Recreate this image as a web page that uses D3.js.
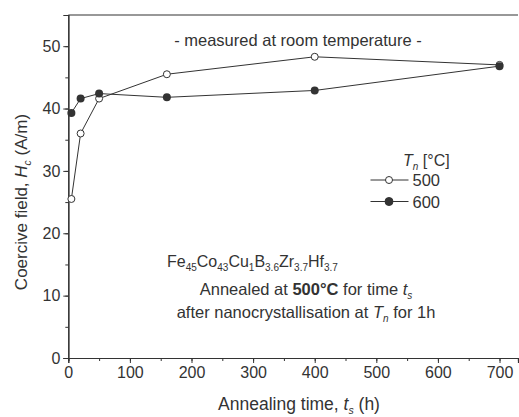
<!DOCTYPE html>
<html><head><meta charset="utf-8">
<script src="https://cdn.jsdelivr.net/npm/d3@7"></script>
<style>
body{margin:0;background:#fff;}
svg text{font-family:"Liberation Sans",Arial,sans-serif;fill:#333;}
</style></head>
<body><svg id="c" width="519" height="417"></svg>
<script>
const series500 = [[5,25.5],[20,36],[50,41.6],[160,45.5],[400,48.3],[700,47.0]];
const series600 = [[5,39.3],[20,41.6],[50,42.4],[160,41.8],[400,42.9],[700,46.8]];
const xTicks = [0,100,200,300,400,500,600,700];
const yTicks = [0,10,20,30,40,50];

const svg = d3.select("#c");
const m = {l:68.3, r:1, t:15, b:59};
const W = 519, H = 417;
const x = d3.scaleLinear().domain([0,730]).range([m.l, W-m.r]);
const y = d3.scaleLinear().domain([0,55]).range([H-m.b, m.t]);
const col = "#333";

// top border
svg.append("line").attr("x1",x(0)).attr("x2",x(730)).attr("y1",y(55)).attr("y2",y(55))
  .attr("stroke",col).attr("stroke-width",1.2);

// x axis
const gx = svg.append("g").attr("transform",`translate(0,${y(0)})`);
gx.call(d3.axisBottom(x).tickValues(d3.range(0,731,50)).tickSize(3).tickFormat(""));
const gx2 = svg.append("g").attr("transform",`translate(0,${y(0)})`);
gx2.call(d3.axisBottom(x).tickValues(xTicks).tickSize(5).tickPadding(4));
gx2.selectAll("text").attr("font-size",16).style("fill","#333");
[gx,gx2].forEach(g=>{g.select(".domain").attr("stroke",col).attr("stroke-width",1.2); g.selectAll("line").attr("stroke",col);});

// y axis
const gy = svg.append("g").attr("transform",`translate(${x(0)},0)`);
gy.call(d3.axisLeft(y).tickValues(d3.range(0,56,5)).tickSize(3).tickFormat(""));
const gy2 = svg.append("g").attr("transform",`translate(${x(0)},0)`);
gy2.call(d3.axisLeft(y).tickValues(yTicks).tickSize(5).tickPadding(3));
gy2.selectAll("text").attr("font-size",16).style("fill","#333");
[gy,gy2].forEach(g=>{g.select(".domain").attr("stroke",col).attr("stroke-width",1.2); g.selectAll("line").attr("stroke",col);});

// lines
const line = d3.line().x(d=>x(d[0])).y(d=>y(d[1]));
svg.append("path").datum(series500).attr("d",line).attr("fill","none").attr("stroke",col).attr("stroke-width",1);
svg.append("path").datum(series600).attr("d",line).attr("fill","none").attr("stroke",col).attr("stroke-width",1);
svg.selectAll(".p500").data(series500).join("circle").attr("cx",d=>x(d[0])).attr("cy",d=>y(d[1]))
  .attr("r",3.5).attr("fill","#fff").attr("stroke",col).attr("stroke-width",1);
svg.selectAll(".p600").data(series600).join("circle").attr("cx",d=>x(d[0])).attr("cy",d=>y(d[1]))
  .attr("r",4).attr("fill",col);

// annotation
svg.append("text").attr("x",298).attr("y",46).attr("text-anchor","middle").attr("font-size",16.5)
  .text("- measured at room temperature -");

// legend
const lt = svg.append("text").attr("x",403).attr("y",166).attr("font-size",16);
lt.append("tspan").attr("font-style","italic").text("T");
lt.append("tspan").attr("font-size",10).attr("font-style","italic").attr("dy",4).text("n");
lt.append("tspan").attr("dy",-4).text(" [°C]");
[["500",180,false],["600",201.5,true]].forEach(([lab,yy,filled])=>{
  svg.append("line").attr("x1",370.5).attr("x2",408.5).attr("y1",yy).attr("y2",yy).attr("stroke",col).attr("stroke-width",1);
  svg.append("circle").attr("cx",389).attr("cy",yy).attr("r",filled?4:3.5)
    .attr("fill",filled?col:"#fff").attr("stroke",col).attr("stroke-width",1);
  svg.append("text").attr("x",412.5).attr("y",yy+6).attr("font-size",16.5).text(lab);
});

// composition
const comp = [["Fe","45"],["Co","43"],["Cu","1"],["B","3.6"],["Zr","3.7"],["Hf","3.7"]];
const ct = svg.append("text").attr("x",167).attr("y",267).attr("font-size",16);
comp.forEach(([el,sub],i)=>{
  ct.append("tspan").attr("dy",i===0?0:-4).text(el);
  ct.append("tspan").attr("dy",4).attr("font-size",10).text(sub);
});
const t2 = svg.append("text").attr("x",306).attr("y",295).attr("text-anchor","middle").attr("font-size",16.5);
t2.append("tspan").text("Annealed at ");
t2.append("tspan").attr("font-weight","bold").text("500°C");
t2.append("tspan").text(" for time ");
t2.append("tspan").attr("font-style","italic").text("t");
t2.append("tspan").attr("font-style","italic").attr("font-size",10).attr("dy",4).text("s");
const t3 = svg.append("text").attr("x",306).attr("y",318).attr("text-anchor","middle").attr("font-size",16.5);
t3.append("tspan").text("after nanocrystallisation at ");
t3.append("tspan").attr("font-style","italic").text("T");
t3.append("tspan").attr("font-style","italic").attr("font-size",10).attr("dy",4).text("n");
t3.append("tspan").attr("dy",-4).text(" for 1h");

// axis titles
const xt = svg.append("text").attr("x",299).attr("y",410).attr("text-anchor","middle").attr("font-size",17.5);
xt.append("tspan").text("Annealing time, ");
xt.append("tspan").attr("font-style","italic").text("t");
xt.append("tspan").attr("font-style","italic").attr("font-size",10.5).attr("dy",4).text("s");
xt.append("tspan").attr("dy",-4).text(" (h)");

const yt = svg.append("text").attr("transform","translate(27,202) rotate(-90)").attr("text-anchor","middle").attr("font-size",17);
yt.append("tspan").text("Coercive field,  ");
yt.append("tspan").attr("font-style","italic").text("H");
yt.append("tspan").attr("font-style","italic").attr("font-size",10.5).attr("dy",4).text("c");
yt.append("tspan").attr("dy",-4).text(" (A/m)");
</script></body></html>
